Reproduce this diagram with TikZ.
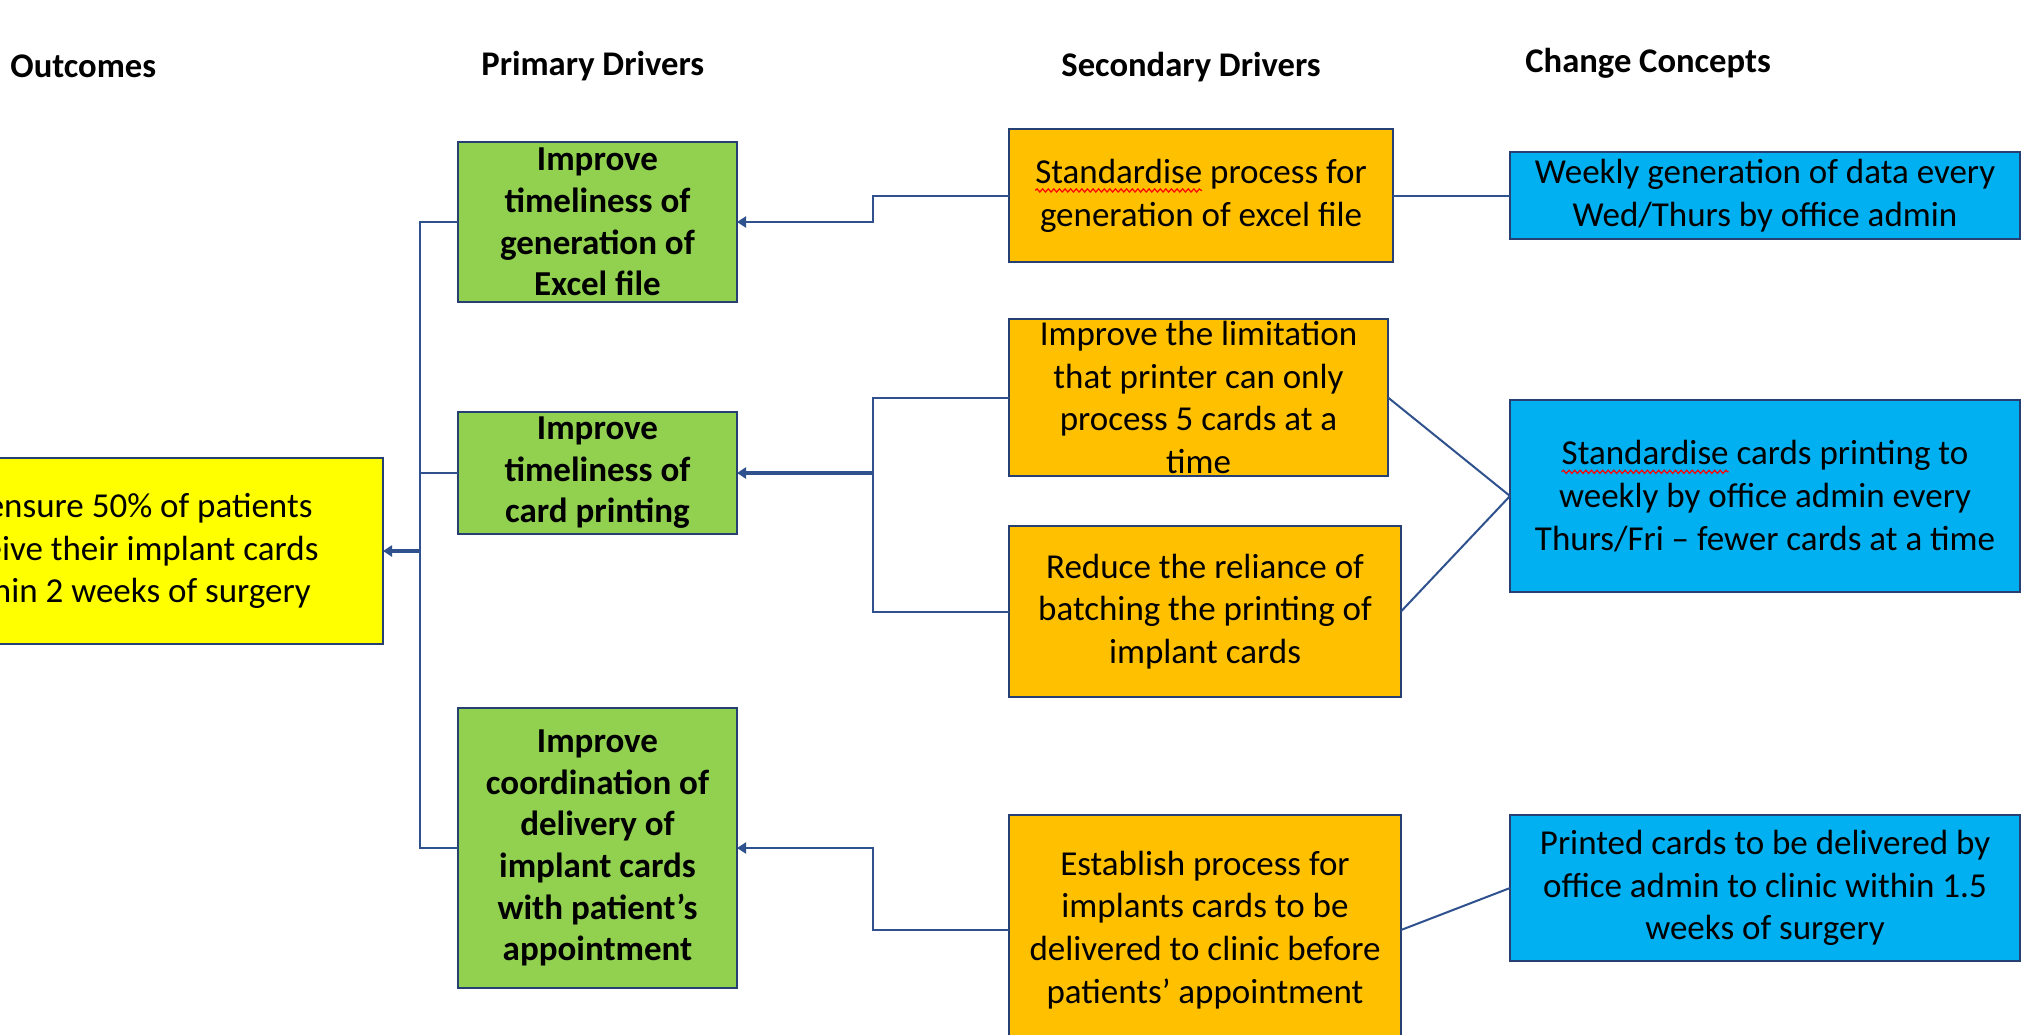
\documentclass[tikz,border=0pt]{standalone}
\usepackage{fontspec}
\setmainfont{Carlito}
\usetikzlibrary{arrows.meta,decorations.pathmorphing}
\newsavebox\swbox
\newcommand\spellwave[1]{\sbox\swbox{#1}\usebox\swbox\tikz[overlay]\draw[red, line width=0.6pt, decorate, decoration={snake, amplitude=0.8pt, segment length=2.8pt}] (-\wd\swbox,-3.6pt) -- (0pt,-3.6pt);}
\definecolor{boxline}{RGB}{38,64,115}
\definecolor{conline}{RGB}{47,82,143}
\definecolor{outyellow}{RGB}{255,255,0}
\definecolor{primgreen}{RGB}{146,208,80}
\definecolor{secorange}{RGB}{255,192,0}
\definecolor{chblue}{RGB}{0,176,240}
\tikzset{
  basebox/.style={draw=boxline, line width=1pt, inner sep=0pt, outer sep=0pt, align=center,
    font=\fontsize{17.5}{21.4}\selectfont},
  outbox/.style={basebox, fill=outyellow},
  primbox/.style={basebox, fill=primgreen, font=\fontsize{17.5}{20.8}\selectfont\bfseries},
  secbox/.style={basebox, fill=secorange},
  chbox/.style={basebox, fill=chblue},
  header/.style={anchor=west, inner sep=0pt, font=\fontsize{17.3}{20}\selectfont\bfseries},
  conn/.style={draw=conline, line width=1pt},
  arr/.style={conn, -{Triangle[length=4.5pt,width=5.5pt]}},
}
\begin{document}
\begin{tikzpicture}[x=0.5pt, y=-0.5pt]
\useasboundingbox (0,0) rectangle (2023,1034);
\clip (0,0) rectangle (2023,1034);
\fill[white] (0,0) rectangle (2023,1034);

% headers
\node[header] (h1) at (10,66) {Outcomes};
\node[header] (h2) at (481,66) {Primary Drivers};
\node[header] (h3) at (1061,67) {Secondary Drivers};
\node[header] (h4) at (1525,63) {Change Concepts};

% outcome
\node[outbox, minimum width=507*0.5pt, minimum height=186*0.5pt] (O) at (129.5,551)
  {To ensure 50\% of patients\\receive their implant cards\\within 2 weeks of surgery};

% primary drivers
\node[primbox, minimum width=279*0.5pt, minimum height=160*0.5pt] (G1) at (597.5,222)
  {Improve\\timeliness of\\generation of\\Excel file};
\node[primbox, minimum width=279*0.5pt, minimum height=122*0.5pt] (G2) at (597.5,473)
  {Improve\\timeliness of\\card printing};
\node[primbox, minimum width=279*0.5pt, minimum height=280*0.5pt] (G3) at (597.5,848)
  {Improve\\coordination of\\delivery of\\implant cards\\with patient’s\\appointment};

% secondary drivers
\node[secbox, minimum width=384*0.5pt, minimum height=133*0.5pt] (S1) at (1201,195.5)
  {\spellwave{Standardise} process for\\generation of excel file};
\node[secbox, minimum width=379*0.5pt, minimum height=157*0.5pt] (S2) at (1198.5,397.5)
  {Improve the limitation\\that printer can only\\process 5 cards at a\\time};
\node[secbox, minimum width=392*0.5pt, minimum height=171*0.5pt] (S3) at (1205,611.5)
  {Reduce the reliance of\\batching the printing of\\implant cards};
\node[secbox, minimum width=392*0.5pt, minimum height=230*0.5pt] (S4) at (1205,930)
  {Establish process for\\implants cards to be\\delivered to clinic before\\patients’ appointment};

% change concepts
\node[chbox, minimum width=510*0.5pt, minimum height=87*0.5pt] (C1) at (1765,195.5)
  {Weekly generation of data every\\Wed/Thurs by office admin};
\node[chbox, minimum width=510*0.5pt, minimum height=192*0.5pt] (C2) at (1765,496)
  {\spellwave{Standardise} cards printing to\\weekly by office admin every\\Thurs/Fri – fewer cards at a time};
\node[chbox, minimum width=510*0.5pt, minimum height=146*0.5pt] (C3) at (1765,888)
  {Printed cards to be delivered by\\office admin to clinic within 1.5\\weeks of surgery};

% trunk coordinates
\coordinate (tk1) at (420,222);
\coordinate (tk3) at (420,848);
\coordinate (tkO) at (420,551);
\coordinate (bA) at (873,195.5);
\coordinate (bB) at (873,222);
\coordinate (bC) at (873,397.5);
\coordinate (bD) at (873,611.5);
\coordinate (bE) at (873,473);
\coordinate (bF) at (873,930);
\coordinate (bG) at (873,848);

% primary -> outcome
\draw[conn] (G1.west) -- (tk1) -- (tk3) -- (G3.west);
\draw[conn] (G2.west) -- (G2.west -| tk1);
\draw[arr, line width=1.6pt] (tkO) -- (O.east);

% secondary -> primary
\draw[arr] (S1.west) -- (bA) -- (bB) -- (G1.east);
\draw[conn] (S2.west) -- (bC) -- (bD) -- (S3.west);
\draw[arr, line width=1.8pt] (bE) -- (G2.east);
\draw[arr] (S4.west) -- (bF) -- (bG) -- (G3.east);

% change concepts -> secondary
\draw[conn] (S1.east) -- (C1.west);
\draw[conn] (S2.east) -- (C2.west);
\draw[conn] (S3.east) -- (C2.west);
\draw[conn] (S4.east) -- (C3.west);
\end{tikzpicture}
\end{document}
